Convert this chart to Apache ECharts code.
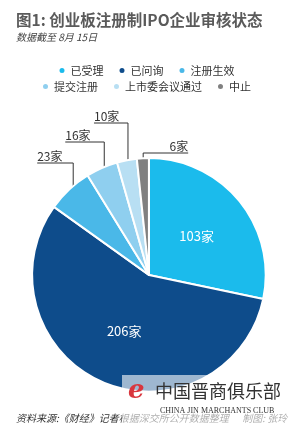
<!DOCTYPE html>
<html>
<head>
<meta charset="utf-8">
<script src="https://cdn.jsdelivr.net/npm/echarts@6/dist/echarts.min.js"></script>
<style>
  html, body { margin: 0; padding: 0; background: #fff; }
  #chart { width: 292px; height: 435px; }
</style>
</head>
<body>
<div id="chart"></div>
<script>
// status categories and number of companies
var statusNames = ['已受理', '已问询', '注册生效', '提交注册', '上市委会议通过', '中止'];
var companyCounts = [103, 206, 23, 16, 10, 6];
var sliceColors = ['#1bbbec', '#0e4c8b', '#4ab8e8', '#8fcfef', '#b8dff3', '#808080'];
var unit = '家';

// leader lines for the small slices: height of the elbow and horizontal run
var elbowY = [0, 0, 163, 142, 123, 153];
var elbowRun = [0, 0, -36, -39, -34, 45];

var FONT = '"Noto Sans CJK SC", "Noto Sans", sans-serif';

var myChart = echarts.init(document.getElementById('chart'));
var CX = 0.51, CY = 0.632;

var pieData = statusNames.map(function (name, i) {
    var inside = i < 2;
    return {
        name: name,
        value: companyCounts[i],
        itemStyle: { color: sliceColors[i] },
        label: inside ? {
            position: 'inside', color: '#fff', fontSize: 13
        } : {
            position: 'outside', color: '#333', fontSize: 12, overflow: 'none'
        },
        labelLine: { show: !inside }
    };
});

function leaderLayout(params) {
    var i = params.dataIndex;
    if (i < 2) return {};
    var w = myChart.getWidth(), h = myChart.getHeight();
    var cx = w * CX, cy = h * CY;
    var p0 = params.labelLinePoints ? params.labelLinePoints[0] : null;
    if (!p0) return {};
    var sx = cx + (p0[0] - cx) * 0.95;
    var sy = cy + (p0[1] - cy) * 0.95;
    var ex = sx + elbowRun[i];
    return {
        x: ex,
        y: elbowY[i] - 1,
        align: elbowRun[i] < 0 ? 'left' : 'right',
        verticalAlign: 'bottom',
        labelLinePoints: [[sx, sy], [sx, elbowY[i]], [ex, elbowY[i]]]
    };
}

var legendBase = {
    left: 'center',
    icon: 'circle',
    itemWidth: 7,
    itemHeight: 7,
    itemGap: 14,
    selectedMode: false,
    textStyle: { fontSize: 11, color: '#333', fontFamily: FONT }
};

var option = {
    backgroundColor: '#fff',
    animation: false,
    title: [{
        left: 11,
        top: 7,
        text: '图1: 创业板注册制IPO企业审核状态',
        subtext: '数据截至 8月 15日',
        itemGap: 5,
        textStyle: { fontSize: 15.5, fontWeight: 'bold', color: '#5a5a5a', fontFamily: FONT },
        subtextStyle: { fontSize: 10, fontStyle: 'italic', color: '#444', fontFamily: FONT }
    }, {
        left: 11,
        top: 408,
        text: '资料来源:《财经》记者根据深交所公开数据整理      制图: 张玲',
        textStyle: { fontSize: 10, fontWeight: 'normal', fontStyle: 'italic', color: '#333', fontFamily: FONT }
    }],
    legend: [
        Object.assign({ top: 60, data: statusNames.slice(0, 3) }, legendBase),
        Object.assign({ top: 76, data: statusNames.slice(3) }, legendBase)
    ],
    series: [{
        type: 'pie',
        center: [(CX * 100) + '%', (CY * 100) + '%'],
        radius: '80%',
        startAngle: 90,
        clockwise: true,
        data: pieData,
        itemStyle: { borderColor: '#fff', borderWidth: 2 },
        label: {
            formatter: '{c}' + unit,
            fontFamily: FONT
        },
        labelLine: {
            length: 10,
            length2: 20,
            lineStyle: { color: '#333', width: 1 }
        },
        labelLayout: leaderLayout,
        emphasis: { disabled: true }
    }],
    graphic: [{
        type: 'rect',
        z: 100,
        shape: { x: 122, y: 375, width: 170, height: 60 },
        style: { fill: 'rgba(255,255,255,0.6)' }
    }, {
        type: 'text',
        z: 101,
        left: 128,
        top: 378,
        style: { text: 'e', font: 'italic bold 26px "DejaVu Serif"', fill: '#d9363e' }
    }, {
        type: 'text',
        z: 101,
        left: 155,
        top: 382,
        style: { text: '中国晋商俱乐部', font: '18px "Noto Sans CJK SC"', fill: '#333' }
    }, {
        type: 'text',
        z: 101,
        left: 160,
        top: 407,
        style: { text: 'CHINA JIN MARCHANTS CLUB', font: '8px "Liberation Serif"', fill: '#333' }
    }]
};

myChart.setOption(option);
window.addEventListener('resize', function () {
    myChart.resize();
});
</script>
</body>
</html>
